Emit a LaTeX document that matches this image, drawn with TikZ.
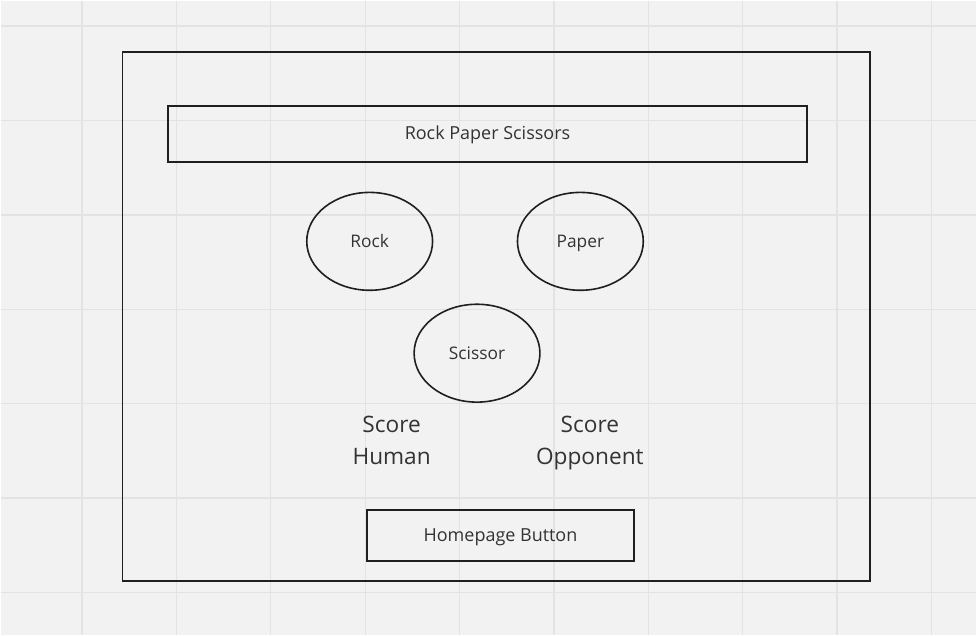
\documentclass[tikz,border=0pt]{standalone}
\usepackage{fontspec}
\setmainfont{Open Sans}
\usetikzlibrary{shapes.geometric}
\definecolor{ozadje}{HTML}{F2F2F2}
\definecolor{mreza}{HTML}{E3E3E3}
\definecolor{crta}{HTML}{1F1F1F}
\definecolor{besedilo}{HTML}{333333}
\begin{document}
\begin{tikzpicture}[x=0.75pt, y=-0.75pt,
    okvir/.style = {draw=crta, line width=1.5pt, rectangle, inner sep=0pt, text=besedilo, text height=1.8ex, text depth=0.15ex, font=\fontsize{13.5}{16}\selectfont},
    izbira/.style = {draw=crta, line width=1.2pt, ellipse, inner sep=0pt, minimum width=94.5pt, minimum height=73.5pt, text=besedilo, text height=1.8ex, text depth=0.15ex, font=\fontsize{13}{15}\selectfont},
    tocke/.style = {align=center, text=besedilo, font=\fontsize{17}{24}\selectfont}]

    % Ozadje in mreza
    \fill[ozadje] (0,0) rectangle (977,635);
    \foreach \i in {0,...,9}
        \draw[mreza, line width=1pt] (81.5+94.5*\i,0) -- (81.5+94.5*\i,635);
    \foreach \j in {0,...,6}
        \draw[mreza, line width=1pt] (0,25.5+94.5*\j) -- (977,25.5+94.5*\j);
    \useasboundingbox (0,0) rectangle (977,635);

    % Zaslon in naslov
    \node[okvir, minimum width=561.75pt, minimum height=397.5pt] (zaslon) at (496.5,316) {};
    \node[okvir, minimum width=479.25pt, minimum height=42.75pt] (naslov) at (487.5,133.5) {Rock Paper Scissors};

    % Izbire igralca
    \node[izbira] (rock) at (369.5,241) {Rock};
    \node[izbira] (paper) at (580.5,241) {Paper};
    \node[izbira] (scissor) at (477,353) {Scissor};

    % Rezultat
    \node[tocke] (human) at (391.5,442) {Score\strut\\Human\strut};
    \node[tocke] (opponent) at (590,442) {Score\strut\\Opponent\strut};

    % Gumb za domov
    \node[okvir, minimum width=200.25pt, minimum height=38.25pt] (domov) at (500.5,535.5) {Homepage Button};

\end{tikzpicture}
\end{document}
